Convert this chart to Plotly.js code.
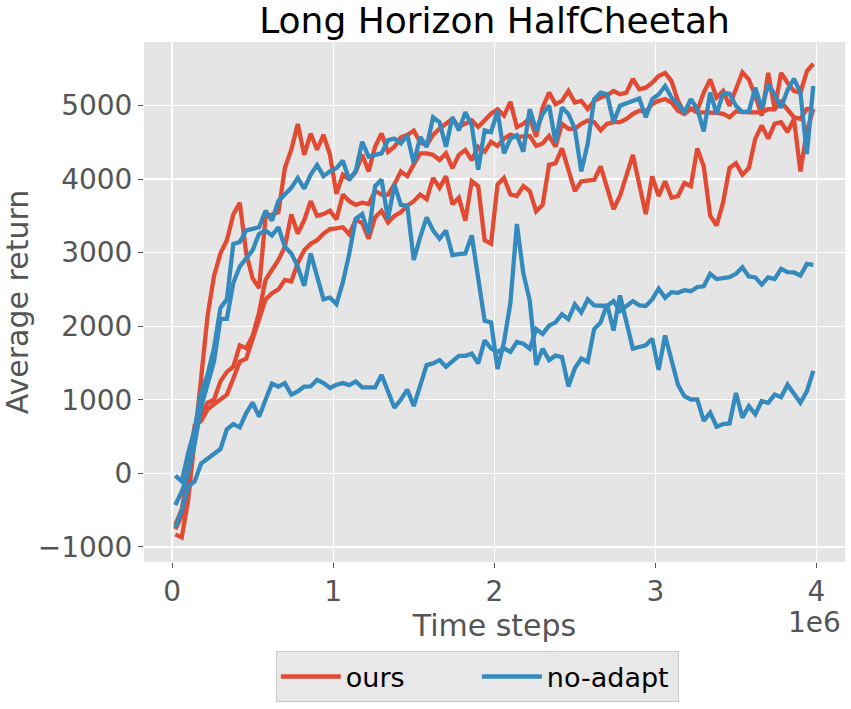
<!DOCTYPE html>
<html>
<head>
<meta charset="utf-8">
<script src="https://cdn.plot.ly/plotly-3.0.1.min.js"></script>
<style>
  html, body { margin: 0; padding: 0; background: #ffffff; }
  #chart { width: 851px; height: 709px; }
</style>
</head>
<body>
<div id="chart"></div>
<script>
// Time steps (in units of 1e6)
const steps = [0.02,0.06,0.10,0.14,0.18,0.22,0.26,0.30,0.34,0.38,
  0.42,0.46,0.50,0.54,0.58,0.62,0.66,0.70,0.74,0.78,
  0.82,0.86,0.90,0.94,0.98,1.02,1.06,1.10,1.14,1.18,
  1.22,1.26,1.30,1.34,1.38,1.42,1.46,1.50,1.54,1.58,
  1.62,1.66,1.70,1.74,1.78,1.82,1.86,1.90,1.94,1.98,
  2.02,2.06,2.10,2.14,2.18,2.22,2.26,2.30,2.34,2.38,
  2.42,2.46,2.50,2.54,2.58,2.62,2.66,2.70,2.74,2.78,
  2.82,2.86,2.90,2.94,2.98,3.02,3.06,3.10,3.14,3.18,
  3.22,3.26,3.30,3.34,3.38,3.42,3.46,3.50,3.54,3.58,
  3.62,3.66,3.70,3.74,3.78,3.82,3.86,3.90,3.94,3.98];

// "ours" runs
const ours_1 = [-830,-870,-360,530,1290,2140,2680,2990,3170,3520,
  3680,2990,2650,2520,3480,3520,3550,4150,4400,4750,
  4330,4620,4400,4600,4330,3800,4060,4000,4100,4330,
  4105,4440,4620,4370,4440,4570,4600,4660,4500,4460,
  4600,4685,4750,4820,4710,4750,4800,4710,4800,4890,
  4950,4864,5050,4707,4752,4828,4574,4975,5176,5020,
  5064,5198,5042,5064,4953,5064,5109,5140,5198,5154,
  5176,5363,5220,5243,5310,5400,5444,5332,5064,4900,
  4960,4930,5176,5355,5109,5198,4997,5243,5453,5354,
  5131,4864,5444,4953,5444,5310,5198,5176,5466,5568];
const ours_2 = [-760,-580,-200,550,800,960,1000,1250,1380,1450,
  1740,1700,1870,2190,2630,2770,2900,3080,3520,3260,
  3440,3700,3500,3525,3570,3450,3790,3700,3650,3680,
  3660,3840,3790,3790,3930,4105,4040,4200,4350,4350,
  4330,4260,4350,4150,4330,4395,4260,4440,4373,4507,
  4450,4551,4605,4574,4574,4587,4453,4484,4587,4440,
  4752,4685,4685,4752,4797,4774,4663,4752,4774,4774,
  4819,4886,4930,4917,5020,5064,5087,5042,4930,4886,
  4953,4908,4908,4908,4900,4886,4841,4920,4908,4908,
  4908,4908,4950,4950,5050,4953,4841,4819,4953,4953];
const ours_3 = [-700,-490,0,650,710,870,940,1000,1070,1290,
  1520,1560,1830,2140,2365,2450,2500,2630,2610,2860,
  3034,3120,3170,3260,3320,3330,3346,3250,3450,3400,
  3190,3480,3570,3410,3500,3550,3640,3700,3790,3726,
  4016,3882,4038,3659,3748,3436,3971,3904,3168,3123,
  3926,4016,3793,3770,3904,3837,3560,3650,4194,4216,
  4417,4127,3837,3971,3980,3990,4172,3882,3592,3770,
  4060,4328,3927,3525,4038,3770,3971,3748,3770,3949,
  3904,4417,4172,3503,3369,3681,4150,4216,4060,4150,
  4551,4730,4551,4752,4774,4640,4819,4105,4650,4953];

// "no-adapt" runs
const noadapt_1 = [-30,-110,280,600,1100,1340,1700,2250,2365,3120,
  3146,3302,3324,3346,3570,3436,3703,3793,3882,4016,
  3870,4060,4190,4040,4105,4150,4250,3990,4110,4507,
  4306,4330,4350,4529,4551,4484,4596,4216,4573,4440,
  4841,4774,4440,4841,4663,4908,4730,4127,4663,4640,
  4930,4350,4551,4596,4373,4953,4663,4886,5000,4500,
  4975,4886,4685,4105,4484,5087,5176,5154,4774,4997,
  5030,5060,5095,4841,5087,5150,5265,5109,5020,4908,
  5087,4953,4650,5176,4886,5170,5160,4997,4910,4920,
  5243,4960,5288,5154,4970,5210,5365,5176,4340,5265];
const noadapt_2 = [-430,-250,0,400,900,1230,1520,2100,2100,2590,
  2811,2923,3034,3257,3302,3235,3346,3079,2990,2811,
  2550,2990,2680,2365,2390,2300,2600,2990,3460,3525,
  3257,3904,3993,3458,3926,3650,3636,2900,3213,3480,
  3302,3190,3302,2967,2980,2990,3235,2640,2075,2052,
  1420,1785,2320,3391,2722,2350,1472,1695,1540,1600,
  1580,1182,1428,1561,1517,1963,2052,2298,1941,2418,
  2052,1696,1718,1740,1830,1406,1874,1562,1205,1049,
  1004,1004,714,825,634,670,678,1093,758,915,
  803,982,960,1071,1035,1205,1071,960,1115,1392];
const noadapt_3 = [-740,-500,-180,-110,134,200,260,330,600,670,
  625,820,960,770,1000,1220,1180,1227,1070,1115,
  1180,1182,1272,1227,1160,1205,1227,1200,1249,1169,
  1169,1169,1339,1115,892,1004,1138,915,1182,1472,
  1495,1540,1450,1526,1597,1597,1628,1495,1807,1695,
  1650,1700,1650,1785,1762,1695,1963,1896,2008,2052,
  2164,2097,2298,2186,2365,2284,2284,2275,2342,2209,
  2275,2342,2284,2275,2365,2512,2387,2463,2454,2490,
  2476,2534,2543,2713,2641,2655,2668,2713,2802,2677,
  2664,2566,2664,2641,2780,2735,2731,2690,2847,2833];

const xTicks = [0, 1, 2, 3, 4];
const yTicks = [-1000, 0, 1000, 2000, 3000, 4000, 5000];

const RED = '#E24A33';
const BLUE = '#348ABD';

function run(y, name, color, show) {
  return {
    x: steps, y: y, type: 'scatter', mode: 'lines', name: name,
    legendgroup: name, showlegend: show,
    line: { color: color, width: 4.3 }
  };
}

const data = [
  run(ours_1, 'ours', RED, true),
  run(ours_2, 'ours', RED, false),
  run(ours_3, 'ours', RED, false),
  run(noadapt_1, 'no-adapt', BLUE, true),
  run(noadapt_2, 'no-adapt', BLUE, false),
  run(noadapt_3, 'no-adapt', BLUE, false)
];

const layout = {
  width: 851, height: 709,
  margin: { l: 144, r: 6, t: 42, b: 140, pad: 0 },
  paper_bgcolor: '#FFFFFF',
  plot_bgcolor: '#E5E5E5',
  font: { family: 'DejaVu Sans, sans-serif', color: '#555555' },
  title: {
    text: 'Long Horizon HalfCheetah',
    font: { size: 36, color: '#000000', family: 'DejaVu Sans, sans-serif' },
    x: 0.5, xref: 'paper', xanchor: 'center',
    y: 0.9535, yref: 'container', yanchor: 'bottom'
  },
  xaxis: {
    range: [-0.1744, 4.1768],
    tickvals: xTicks,
    ticktext: xTicks.map(String),
    ticks: 'outside', ticklen: 5, tickwidth: 1, tickcolor: '#555555',
    ticklabelstandoff: -1,
    tickfont: { size: 28, color: '#555555' },
    showgrid: true, gridcolor: '#FFFFFF', gridwidth: 1.3,
    zeroline: false, showline: false,
    title: { text: 'Time steps', font: { size: 30, color: '#555555' }, standoff: 5 }
  },
  yaxis: {
    range: [-1205, 5864],
    tickvals: yTicks,
    ticks: 'outside', ticklen: 5, tickwidth: 1, tickcolor: '#555555',
    tickfont: { size: 28, color: '#555555' },
    showgrid: true, gridcolor: '#FFFFFF', gridwidth: 1.3,
    zeroline: false, showline: false,
    title: { text: 'Average return', font: { size: 30, color: '#555555' }, standoff: 8 }
  },
  legend: {
    orientation: 'h',
    x: 0.4755, xanchor: 'center',
    y: -0.172, yanchor: 'top',
    bgcolor: '#E8E8E8', bordercolor: '#CCCCCC', borderwidth: 1,
    font: { size: 27, color: '#000000' },
    itemwidth: 60,
    entrywidth: 126, entrywidthmode: 'pixels'
  },
  annotations: [{
    text: '1e6', xref: 'paper', yref: 'paper',
    x: 0.997, xanchor: 'right', y: -0.116, yanchor: 'middle',
    showarrow: false, font: { size: 28, color: '#555555' }
  }]
};

Plotly.newPlot('chart', data, layout, { displayModeBar: false, staticPlot: true });
</script>
</body>
</html>
